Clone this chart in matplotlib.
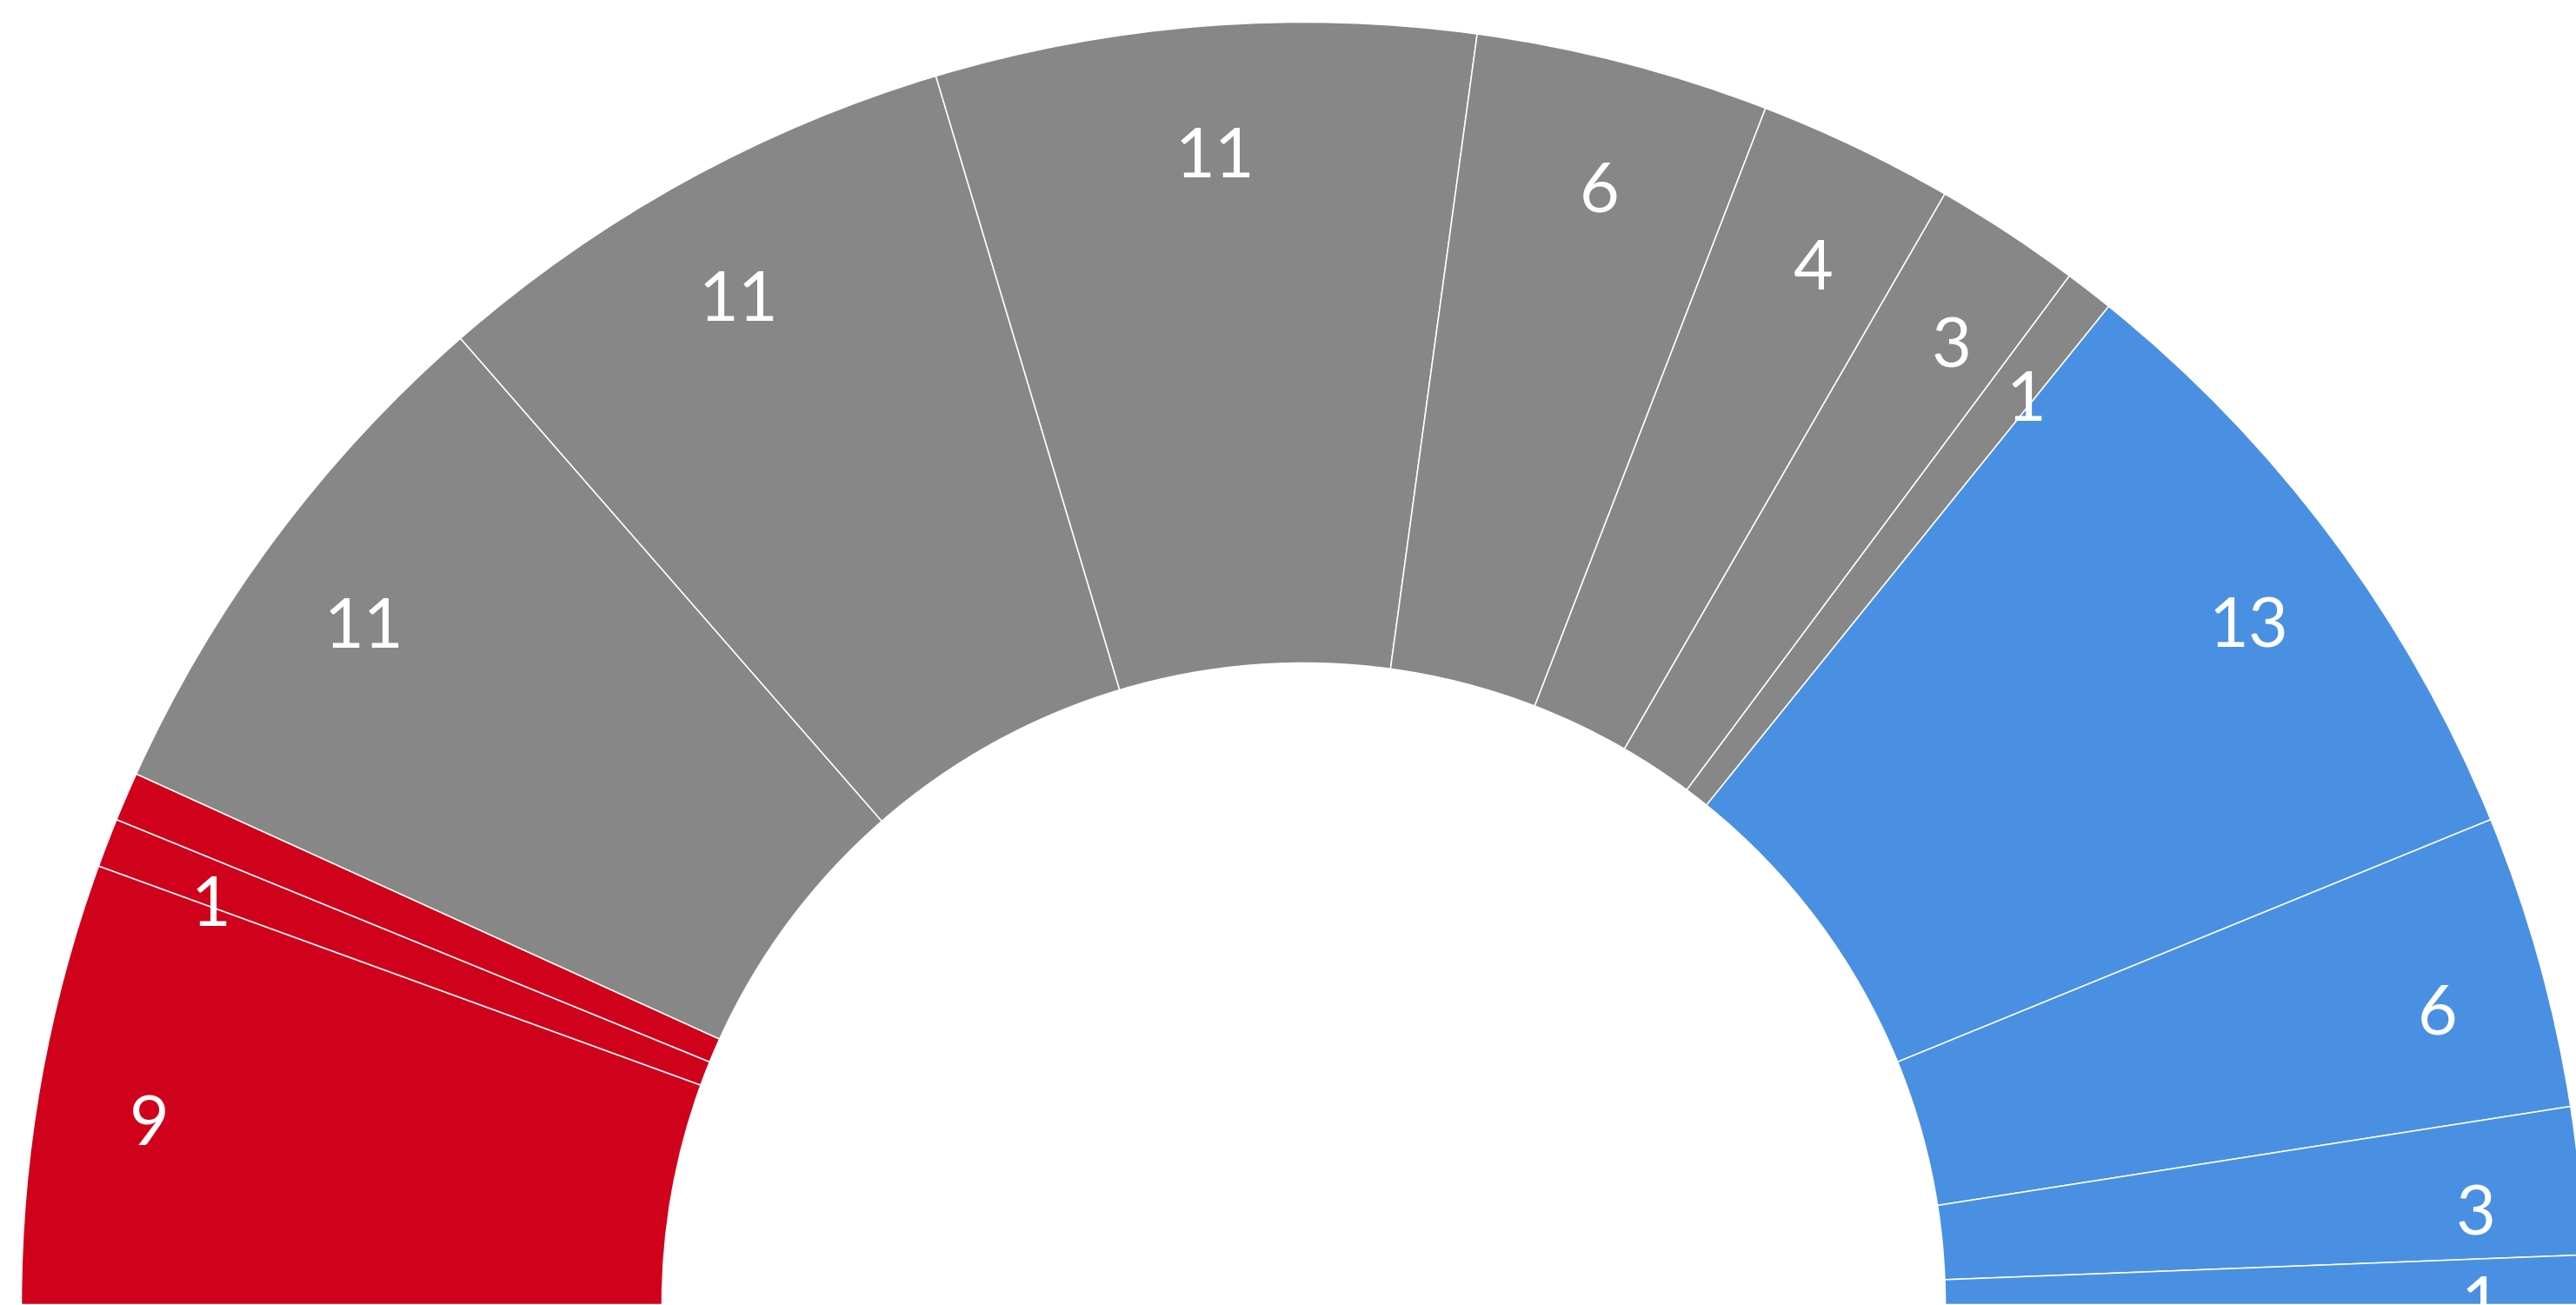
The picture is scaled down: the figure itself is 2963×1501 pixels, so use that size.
import numpy as np
import matplotlib
matplotlib.use("Agg")
import matplotlib.pyplot as plt
from matplotlib import font_manager

# ---- data ----
groups = ["red", "red", "red",
          "gray", "gray", "gray", "gray", "gray", "gray", "gray",
          "blue", "blue", "blue", "blue"]
values = [9, 1, 1,
          11, 11, 11, 6, 4, 3, 1,
          13, 6, 3, 1]
group_colors = {"red": "#D0021B", "gray": "#878787", "blue": "#4A90E2"}

# ---- figure ----
W, H = 2963, 1501
dpi = 100
fig = plt.figure(figsize=(W / dpi, H / dpi), dpi=dpi)
ax = fig.add_axes([0, 0, 1, 1])
ax.axis("off")

cx, cy = 1499.5, 0.5
R = 1475.0
r_in = 738.0

fams = [f.name for f in font_manager.fontManager.ttflist]
family = "Lato" if "Lato" in fams else "DejaVu Sans"

total = float(sum(values))
fracs = [v / (2 * total) for v in values]
colors = [group_colors[g] for g in groups]

wedges, _ = ax.pie(fracs, normalize=False, startangle=180, counterclock=False,
                   center=(cx, cy), radius=R, colors=colors,
                   wedgeprops=dict(width=R - r_in, edgecolor="white", linewidth=1.1))
ax.set_xlim(0, W)
ax.set_ylim(0, H)
ax.set_aspect("equal")
ax.axis("off")

label_r = 0.916 * R
last_shown = None
for w, v in zip(wedges, values):
    mid = 0.5 * (w.theta1 + w.theta2)
    if last_shown is not None and abs(last_shown - mid) < 3.0:
        continue
    last_shown = mid
    x = cx + label_r * np.cos(np.deg2rad(mid)) + 3
    y = cy + label_r * np.sin(np.deg2rad(mid)) - 29
    ax.text(x, y, str(v), ha="center", va="center", color="white",
            fontsize=57, family=family, fontweight="normal")

fig.savefig("out.png", dpi=dpi, facecolor="white")
